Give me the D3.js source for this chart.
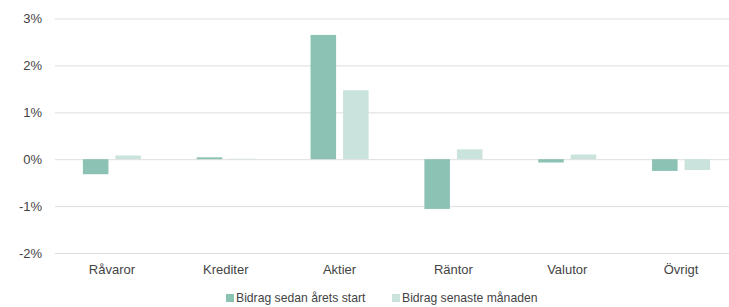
<!DOCTYPE html>
<html>
<head>
<meta charset="utf-8">
<script src="https://cdn.jsdelivr.net/npm/d3@7"></script>
<style>
  body { margin: 0; background: #fff; }
  text { font-family: "Liberation Sans", Arial, sans-serif; fill: #444; }
</style>
</head>
<body>
<svg width="729" height="307"></svg>
<script>
let categories = ['Råvaror', 'Krediter', 'Aktier', 'Räntor', 'Valutor', 'Övrigt'];
let series = ['Bidrag sedan årets start', 'Bidrag senaste månaden'];
let sinceStart = [-0.32, 0.04, 2.65, -1.06, -0.07, -0.25];
let lastMonth = [0.08, 0.01, 1.47, 0.21, 0.10, -0.23];
let yTicks = [-2, -1, 0, 1, 2, 3];
let colors = ['#8bc2b3', '#cae3dc'];

let margin = {top: 18.5, left: 55, right: 738, bottom: 253};

var svg = d3.select('svg');

let x0 = d3.scaleBand()
    .domain(categories)
    .range([margin.left, margin.right])
    .paddingInner(0.49)
    .paddingOuter(0.245);

let x1 = d3.scaleBand()
    .domain(series)
    .range([0, x0.bandwidth()])
    .paddingInner(0.215);

let y = d3.scaleLinear()
    .domain([-2, 3])
    .range([margin.bottom, margin.top]);

// gridlines
svg.append('g')
    .selectAll('line')
    .data(yTicks)
    .enter()
    .append('line')
    .attr('x1', margin.left)
    .attr('x2', margin.right)
    .attr('y1', d => y(d) + 0.5)
    .attr('y2', d => y(d) + 0.5)
    .attr('stroke', '#dedede')
    .attr('stroke-width', 1);

// y labels
svg.append('g')
    .selectAll('text')
    .data(yTicks)
    .enter()
    .append('text')
    .attr('x', 42)
    .attr('y', d => y(d))
    .attr('dy', '0.35em')
    .attr('text-anchor', 'end')
    .style('font-size', '13px')
    .text(d => d + '%');

let rows = categories.map((c, i) => ({cat: c, vals: [sinceStart[i], lastMonth[i]]}));

let groups = svg.append('g')
    .selectAll('g')
    .data(rows)
    .enter()
    .append('g')
    .attr('transform', d => `translate(${x0(d.cat)}, 0)`);

groups.selectAll('rect')
    .data(d => d.vals.map((v, j) => ({s: series[j], v: v, j: j})))
    .enter()
    .append('rect')
    .attr('x', d => x1(d.s))
    .attr('width', x1.bandwidth())
    .attr('y', d => Math.min(y(d.v), y(0)))
    .attr('height', d => Math.abs(y(d.v) - y(0)))
    .attr('fill', d => colors[d.j]);

// x labels
svg.append('g')
    .selectAll('text')
    .data(categories)
    .enter()
    .append('text')
    .attr('x', d => x0(d) + x0.bandwidth() / 2)
    .attr('y', 274)
    .attr('text-anchor', 'middle')
    .style('font-size', '13px')
    .text(d => d);

// legend
let legendX = [226, 392];
let legend = svg.append('g')
    .selectAll('g')
    .data(series)
    .enter()
    .append('g')
    .attr('transform', (d, i) => `translate(${legendX[i]}, 298)`);

legend.append('rect')
    .attr('x', 0)
    .attr('y', -4)
    .attr('width', 8)
    .attr('height', 8)
    .attr('fill', (d, i) => colors[i]);

legend.append('text')
    .attr('x', 10)
    .attr('y', 0)
    .attr('dy', '0.35em')
    .style('font-size', '12.2px')
    .text(d => d);
</script>
</body>
</html>
